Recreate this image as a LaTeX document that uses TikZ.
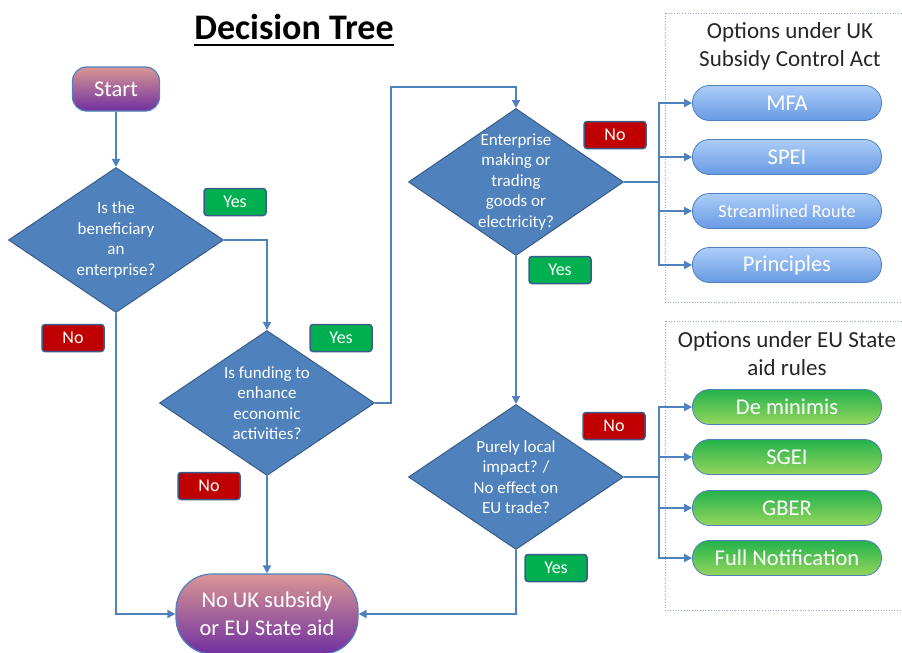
\documentclass[tikz,border=0pt]{standalone}
\usepackage{fontspec}
\setmainfont{Carlito}
\usetikzlibrary{arrows.meta,shapes.geometric}
\definecolor{qblue}{RGB}{79,129,189}
\definecolor{qedge}{RGB}{56,93,138}
\definecolor{yesgreen}{RGB}{0,176,80}
\definecolor{nored}{RGB}{192,0,0}
\definecolor{endtop}{RGB}{217,150,148}
\definecolor{endbot}{RGB}{112,48,160}
\definecolor{uktop}{RGB}{172,205,248}
\definecolor{ukbot}{RGB}{104,154,228}
\definecolor{eutop}{RGB}{34,178,76}
\definecolor{eubot}{RGB}{150,214,92}
\definecolor{boxline}{RGB}{150,170,200}
\definecolor{headtext}{RGB}{38,38,38}

\begin{document}
\begin{tikzpicture}[x=1pt,y=-1pt,>={Triangle[length=8pt,width=8pt]},
  question node/.style={diamond,draw=qedge,fill=qblue,line width=1pt,inner sep=0pt,
    minimum width=215pt,minimum height=145pt},
  question text/.style={text=white,align=center,font={\fontsize{17}{20.5}\selectfont}},
  end node/.style={draw=qblue,line width=1.2pt,top color=endtop,bottom color=endbot,
    text=white,align=center},
  yes node/.style={rectangle,rounded corners=3pt,draw=qedge,line width=1.5pt,fill=yesgreen,
    text=white,minimum width=62pt,minimum height=27pt,font={\fontsize{18}{20}\selectfont}},
  no node/.style={yes node,fill=nored},
  uk node/.style={rectangle,rounded corners=17pt,draw=qblue,line width=0.8pt,
    top color=uktop,bottom color=ukbot,text=white,minimum width=189pt,minimum height=35pt,
    font={\fontsize{22.5}{26}\selectfont}},
  eu node/.style={uk node,top color=eutop,bottom color=eubot},
  head node/.style={text=headtext,align=center,font={\fontsize{23}{28}\selectfont}},
  link/.style={->,draw=qblue,line width=1.8pt}]

  \useasboundingbox (0,0) rectangle (902,653);

  \node[anchor=base,inner sep=0pt,font={\fontsize{36}{40}\bfseries}] (t) at (294,39) {Decision Tree};
  \draw[line width=2.4pt] ([yshift=-6pt]t.base west) -- ([yshift=-6pt]t.base east);

  % option boxes
  \draw[boxline,dotted,line width=0.7pt] (665,13) rectangle (906,302);
  \draw[boxline,dotted,line width=0.7pt] (665,321) rectangle (906,610);
  \node[head node] (uk) at (790,46) {Options under UK\\Subsidy Control Act};
  \node[head node] (eu) at (787,354) {Options under EU State\\aid rules};

  \node[end node,minimum width=87pt,minimum height=44pt,rounded corners=14pt,
    font={\fontsize{22.5}{26}\selectfont}] (0) at (116,89) {Start};
  \node[question node,label={[question text]center:{Is the\\beneficiary\\an\\enterprise?}}]
    (1) at (116,240) {};
  \node[question node,label={[question text]center:{Is funding to\\enhance\\economic\\activities?}}]
    (2) at (267,403) {};
  \node[question node,minimum height=147pt,
    label={[question text]center:{Enterprise\\making or\\trading\\goods or\\electricity?}}]
    (3) at (516,182) {};
  \node[question node,label={[question text]center:{Purely local\\impact? /\\No effect on\\EU trade?}}]
    (4) at (516,477) {};
  \node[end node,minimum width=182pt,minimum height=80pt,rounded corners=36pt,
    font={\fontsize{22.5}{28}\selectfont}] (5) at (267,614) {No UK subsidy\\or EU State aid};

  \node[uk node] (31) at (787,103) {MFA};
  \node[uk node] (32) at (787,157) {SPEI};
  \node[uk node,font={\fontsize{18.2}{21}\selectfont}] (33) at (787,211) {Streamlined Route};
  \node[uk node] (34) at (787,265) {Principles};
  \node[eu node] (41) at (787,407) {De minimis};
  \node[eu node] (42) at (787,457) {SGEI};
  \node[eu node] (43) at (787,508) {GBER};
  \node[eu node] (44) at (787,558) {Full Notification};

  \coordinate (c1) at (391,87);
  \coordinate (b1) at (659,182);
  \coordinate (b2) at (659,477);

  \draw[link] (0) -- (1);
  \draw[link] (1.east) -| (2.north);
  \draw[link] (1.south) |- (5.west);
  \draw[link] (2.south) -- (5.north);
  \draw[link] (2.east) -| (c1) -| (3.north);
  \draw[link] (3.south) -- (4.north);
  \draw[link] (4.south) |- (5.east);
  \draw[link,-] (3.east) -- (b1);
  \draw[link,-] (4.east) -- (b2);
  \foreach \n in {31,...,34}
    \draw[link] (b1) |- (\n.west);
  \foreach \n in {41,...,44}
    \draw[link] (b2) |- (\n.west);

  \node[yes node] (y1) at (235,202) {Yes};
  \node[yes node] (y2) at (341,338) {Yes};
  \node[yes node] (y3) at (560,270) {Yes};
  \node[yes node] (y4) at (556,568) {Yes};
  \node[no node] (n1) at (73,338) {No};
  \node[no node] (n2) at (209,486) {No};
  \node[no node] (n3) at (615,135) {No};
  \node[no node] (n4) at (614,426) {No};
\end{tikzpicture}
\end{document}
